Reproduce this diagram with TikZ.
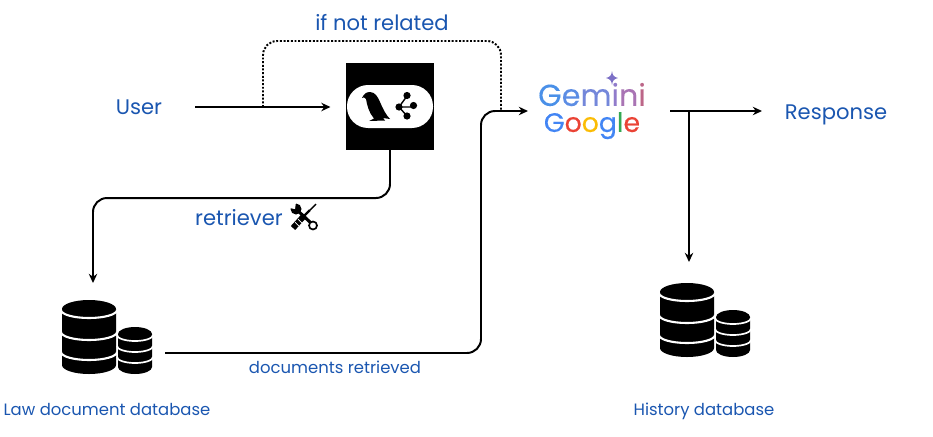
\documentclass[tikz,border=0pt]{standalone}
\usepackage{fontspec}
\setmainfont{Poppins}
\usetikzlibrary{arrows.meta}

\definecolor{labelblue}{HTML}{1A56B0}
\definecolor{gblue}{HTML}{4285F4}
\definecolor{gred}{HTML}{EA4335}
\definecolor{gyellow}{HTML}{FBBC05}
\definecolor{ggreen}{HTML}{34A853}
\definecolor{gemone}{HTML}{4A90E8}
\definecolor{gemtwo}{HTML}{5C8DE4}
\definecolor{gemthree}{HTML}{7487DA}
\definecolor{gemfour}{HTML}{917CCB}
\definecolor{gemfive}{HTML}{A974B4}
\definecolor{gemsix}{HTML}{BC6688}
\definecolor{gemstar}{HTML}{7C70C6}

\tikzset{
    label text/.style={text=labelblue, font=\fontsize{15}{17}\selectfont},
    small text/.style={text=labelblue, font=\fontsize{11.7}{14}\selectfont},
    anchor box/.style={inner sep=0pt, outer sep=0pt},
    conn/.style={line width=1.4pt, rounded corners=10pt, -{Stealth[length=6.5pt,width=6pt]}},
    pics/dbstack/.style={code={
            % big cylinder, then the small one, cut by white bands
            \fill[black] (0,9) arc[start angle=180, end angle=360, x radius=27, y radius=9]
            -- (54,65) arc[start angle=0, end angle=180, x radius=27, y radius=9] -- cycle;
            \fill[black] (56,34) arc[start angle=180, end angle=360, x radius=17, y radius=7]
            -- (90,67) arc[start angle=0, end angle=180, x radius=17, y radius=7] -- cycle;
            \foreach \y in {10, 32, 52} {
                    \draw[white, line width=1.5pt] (-1,\y) arc[start angle=180, end angle=0, x radius=28, y radius=8];
                }
            \foreach \y in {35, 46, 57} {
                    \draw[white, line width=1.2pt] (55,\y) arc[start angle=180, end angle=0, x radius=18, y radius=6];
                }
        }}
}

\begin{document}
\begin{tikzpicture}[x=0.025cm, y=-0.025cm]
    \useasboundingbox (0,0) rectangle (933,436);

    % Text nodes, sized so that their edges are where the arrows stop
    \node[label text, anchor box, minimum width=2.8cm] (user) at (139,107) {User};
    \node[label text, anchor box, minimum width=3.7cm] (response) at (836,115) {Response};
    \node[label text] (ifnot) at (382,23) {if not related};
    \node[label text] (retriever) at (239,218) {retriever};
    \node[small text] (docs) at (335,367) {documents retrieved};
    \node[small text] (lawlabel) at (107,409) {Law document database};
    \node[small text] (histlabel) at (704,411) {History database};

    % The black square with the bird and the graph
    \node[fill=black, anchor box, minimum size=2.175cm] (chain) at (390,106.5) {};
    \fill[white, rounded corners=15pt] (347,85) rectangle (433,128);
    \fill[black] (362,98) .. controls (364,94) and (366,92) .. (370,92)
    .. controls (375,92) and (378,97) .. (380,102)
    .. controls (383,109) and (386,115) .. (390,119)
    -- (383,118) -- (385,120.5) -- (369,121) -- (374,118.5)
    .. controls (369,113) and (367,105) .. (366,99)
    .. controls (365,97) and (363,97) .. (362,98) -- cycle;
    \draw[black, line width=1pt] (399,107) -- (407,96) (399,107) -- (413,107) (399,107) -- (407,116);
    \foreach \x/\y in {407/95.5, 399/107, 413.5/105.5, 407/116} {
            \fill[black] (\x,\y) circle (3.6);
        }

    % Gemini and Google words
    \node[anchor box, minimum width=3.55cm, minimum height=1.4cm] (gemini) at (599,111) {};
    \node[anchor box, align=center, font=\fontsize{21.5}{18.5}\selectfont\addfontfeatures{FakeBold=0.2}] (gemword) at (592,111) {\textcolor{gemone}{G}\textcolor{gemtwo}{e}\textcolor{gemthree}{m}\textcolor{gemfour}{i}\textcolor{gemfive}{n}\textcolor{gemsix}{i}\\\fontsize{19}{18.5}\selectfont\addfontfeatures{FakeBold=0.4}\textcolor{gblue}{G}\textcolor{gred}{o}\textcolor{gyellow}{o}\textcolor{gblue}{g}\textcolor{ggreen}{l}\textcolor{gred}{e}};
    \fill[gemstar] (612,71) .. controls (612.5,75.5) and (614,77) .. (618,78)
    .. controls (614,79) and (612.5,80.5) .. (612,85)
    .. controls (611.5,80.5) and (610,79) .. (606,78)
    .. controls (610,77) and (611.5,75.5) .. (612,71) -- cycle;

    % Crossed wrench and screwdriver
    \draw[black, line width=2.2pt] (297,210) -- (311,223);
    \draw[black, line width=1.2pt, fill=white] (313,225.5) circle (4);
    \fill[black] (296,209) circle (5.5);
    \fill[white] (295,209) -- (289,208) -- (290,202) -- (296,202) -- cycle;
    \draw[black, line width=1pt] (310,210) -- (316,204);
    \draw[black, line width=1.6pt] (304,216) -- (310,210);
    \draw[black, line width=4.2pt] (293,228) -- (303,217);
    \draw[white, line width=0.5pt] (295,222) -- (299,226) (298,219) -- (302,223);

    % Database icons with nodes around them for the arrows
    \node[anchor box, minimum width=3.6cm, minimum height=3.5cm] (lawdb) at (93,353) {};
    \node[anchor box, minimum width=2.2cm, minimum height=2.9cm] (histdb) at (689,320) {};
    \pic at (62,300) {dbstack};
    \pic at (660,283) {dbstack};

    % Where the branches leave the other lines
    \coordinate (dotstart) at (263,107);
    \coordinate (dotend) at (501,110);
    \coordinate (docbend) at (481,111);
    \coordinate (histtap) at (689,111);

    % Connectors
    \draw[conn, shorten >=11.4pt] (user.east) -- (user.east -| chain.west);
    \draw[line width=1.4pt, dash pattern=on 1.4pt off 1.2pt, rounded corners=10pt] (dotstart) -- ++(0,-66) -| (dotend);
    \draw[conn] (chain.south) -- ++(0,48) -| (lawdb.north);
    \draw[conn] (lawdb.east) -| (docbend) -- (gemini.west);
    \draw[conn] (gemini.east) -- (gemini.east -| response.west);
    \draw[conn] (histtap) -- (histdb.north);
\end{tikzpicture}
\end{document}
